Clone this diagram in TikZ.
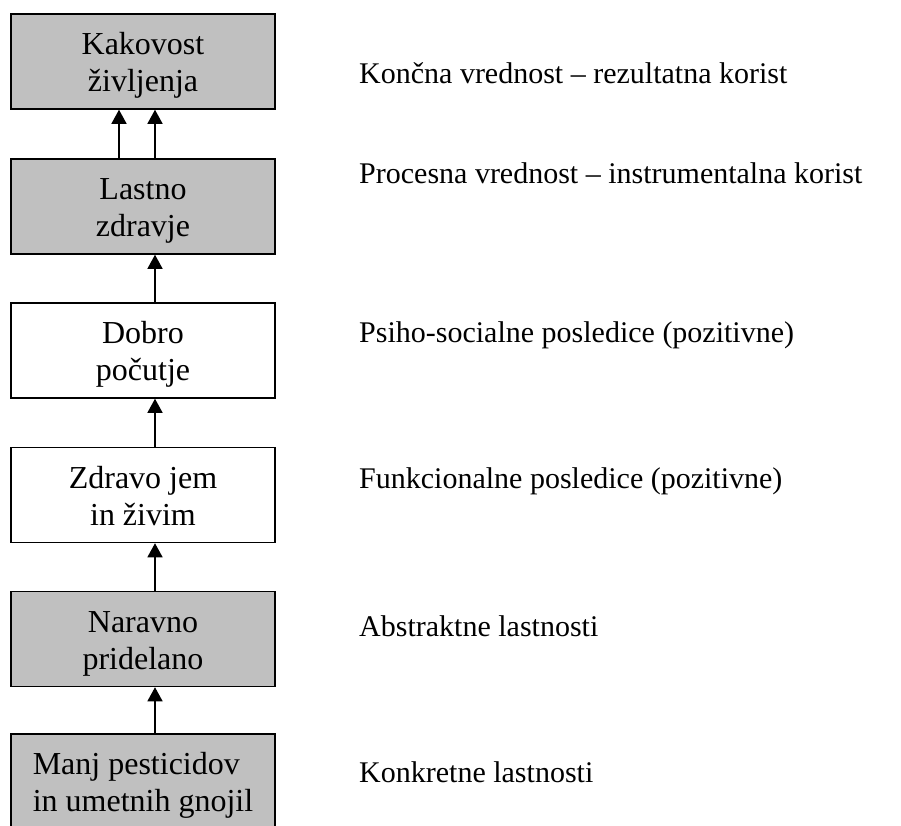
\documentclass[tikz,border=0pt]{standalone}
\usepackage{fontspec}
\setmainfont{Liberation Serif}
\usetikzlibrary{arrows.meta}
\newcommand{\topstrut}{\rule{0pt}{30pt}}
\newcommand{\botstrut}{\rule[-7pt]{0pt}{7pt}}
\begin{document}
\begin{tikzpicture}[x=1pt,y=-1pt,
  box/.style={draw=black,line width=1.5pt,minimum width=264pt,minimum height=95pt,
    inner sep=0pt,align=center,font=\fontsize{32}{37}\selectfont},
  graybox/.style={box,fill={rgb,255:red,192;green,192;blue,192}},
  whitebox/.style={box,fill=white},
  lbl/.style={anchor=base west,inner sep=0pt,font=\fontsize{30}{34}\selectfont},
  arr/.style={line width=1.3pt,-{Triangle[length=14pt,width=15pt]}}]
\useasboundingbox (0,0) rectangle (901,825);
\node[graybox] (b1) at (143,61.5) {\topstrut Kakovost\\življenja\botstrut};
\node[graybox] (b2) at (143,206.5) {\topstrut Lastno\\zdravje\botstrut};
\node[whitebox] (b3) at (143,350.5) {\topstrut Dobro\\počutje\botstrut};
\node[whitebox] (b4) at (143,495) {\topstrut Zdravo jem\\in živim\botstrut};
\node[graybox] (b5) at (143,639) {\topstrut Naravno\\pridelano\botstrut};
\node[graybox,align=left] (b6) at (143,781.5) {\topstrut Manj pesticidov\\in umetnih gnojil\botstrut};
\draw[arr] ([xshift=-24pt]b2.north) -- ([xshift=-24pt]b1.south);
\draw[arr] ([xshift=12pt]b2.north) -- ([xshift=12pt]b1.south);
\draw[arr] ([xshift=12pt]b3.north) -- ([xshift=12pt]b2.south);
\draw[arr] ([xshift=12pt]b4.north) -- ([xshift=12pt]b3.south);
\draw[arr] ([xshift=12pt]b5.north) -- ([xshift=12pt]b4.south);
\draw[arr] ([xshift=12pt]b6.north) -- ([xshift=12pt]b5.south);
\node[lbl] (l1) at (359,83) {Končna vrednost – rezultatna korist};
\node[lbl] (l2) at (359,183) {Procesna vrednost – instrumentalna korist};
\node[lbl] (l3) at (359,342) {Psiho-socialne posledice (pozitivne)};
\node[lbl] (l4) at (359,488) {Funkcionalne posledice (pozitivne)};
\node[lbl] (l5) at (359,636) {Abstraktne lastnosti};
\node[lbl] (l6) at (359,782) {Konkretne lastnosti};
\end{tikzpicture}
\end{document}
